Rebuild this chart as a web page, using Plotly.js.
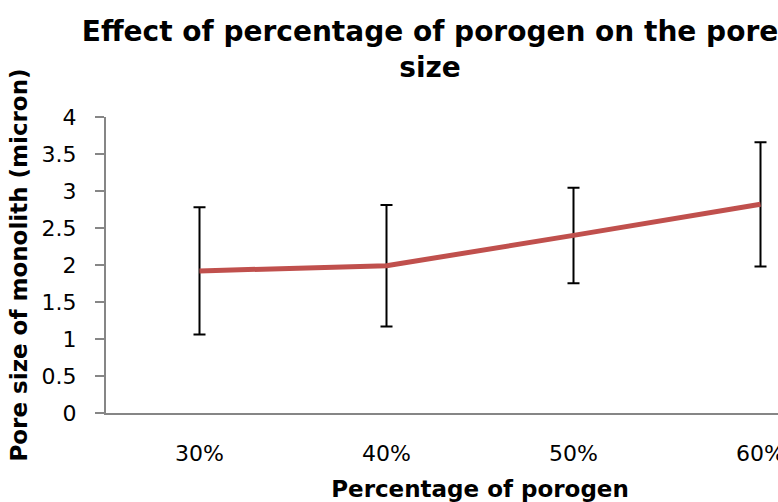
<!DOCTYPE html>
<html>
<head>
<meta charset="utf-8">
<script src="https://cdn.plot.ly/plotly-3.0.1.min.js"></script>
<style>
  html, body { margin: 0; padding: 0; overflow: hidden; background: #fff; width: 778px; height: 502px; }
  #chart { width: 860px; height: 502px; }
</style>
</head>
<body>
<div id="chart"></div>
<script>
const categories = ["30%", "40%", "50%", "60%"];
const poreSize = [1.92, 1.99, 2.40, 2.82];
const poreError = [0.86, 0.82, 0.645, 0.84];
const yTickVals = [0, 0.5, 1, 1.5, 2, 2.5, 3, 3.5, 4];
const yTickText = ["0", "0.5", "1", "1.5", "2", "2.5", "3", "3.5", "4"];

const fontFam = "Tahoma, Verdana, 'DejaVu Sans', sans-serif";

const trace = {
  x: categories,
  y: poreSize,
  type: "scatter",
  mode: "lines",
  line: { color: "#C0504D", width: 5 },
  error_y: { type: "data", array: poreError, visible: true, color: "#000000", thickness: 2, width: 6 },
  hoverinfo: "skip"
};

const layout = {
  width: 860,
  height: 502,
  margin: { l: 106, r: 6, t: 117, b: 89 },
  paper_bgcolor: "#ffffff",
  plot_bgcolor: "#ffffff",
  showlegend: false,
  font: { family: fontFam, color: "#000000" },
  title: {
    text: "<b>Effect of percentage of porogen on the pore<br>size</b>",
    font: { family: fontFam, size: 28, color: "#000000" },
    x: 0.5, xanchor: "center",
    yref: "container",
    y: 1 - 41 / 502, yanchor: "middle"
  },
  xaxis: {
    type: "category",
    range: [-0.5, 3.5],
    showline: true, linecolor: "#868686", linewidth: 2,
    ticks: "", showgrid: false, zeroline: false,
    ticklabelstandoff: 20,
    tickfont: { family: fontFam, size: 22, color: "#000000" },
    title: { text: "<b>Percentage of porogen</b>", font: { family: fontFam, size: 23, color: "#000000" }, standoff: 16 }
  },
  yaxis: {
    range: [0, 4],
    tickvals: yTickVals, ticktext: yTickText,
    showline: true, linecolor: "#868686", linewidth: 2,
    ticks: "outside", ticklen: 9, tickcolor: "#868686", tickwidth: 2,
    ticklabelstandoff: 14,
    showgrid: false, zeroline: false,
    tickfont: { family: fontFam, size: 22, color: "#000000" },
    title: { text: "<b>Pore size of monolith (micron)</b>", font: { family: fontFam, size: 23, color: "#000000" }, standoff: 8 }
  }
};

Plotly.newPlot("chart", [trace], layout, { displayModeBar: false, staticPlot: true });
</script>
</body>
</html>
